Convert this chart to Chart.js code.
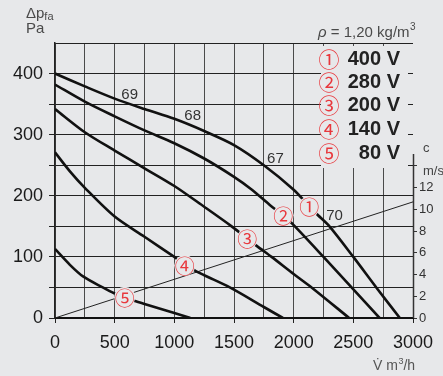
<!DOCTYPE html>
<html><head><meta charset="utf-8">
<script src="https://cdn.jsdelivr.net/npm/chart.js@4/dist/chart.umd.min.js"></script>
<style>html,body{margin:0;padding:0;background:#e7e8ea;}canvas{display:block}</style>
</head><body>
<canvas id="c" width="443" height="376"></canvas>
<script>
// ---- data ----
const curve400Flow = [0,250,500,750,1000,1250,1500,1750,2000,2130,2200,2300,2500,2700,2890];
const curve400Pressure = [400,379,359,342,326,306,283,250,210,183,169,150,100,48,0];
const curve280Flow = [0,250,500,750,1000,1250,1500,1650,1800,1910,2000,2250,2485,2720];
const curve280Pressure = [382,354,330,307,286,261,231,210,185,168,152,100,50,0];
const curve200Flow = [0,250,500,750,1000,1250,1480,1612,1690,1815,2000,2150,2465];
const curve200Pressure = [342,304,274,245,216,182,150,130,118,100,72,50,0];
const curve140Flow = [0,125,250,500,750,1000,1090,1170,1250,1465,1750,1910];
const curve140Pressure = [271,240,213,166,133,100,88,78,70,50,18,0];
const curve80Flow = [0,125,235,400,500,580,650,750,1000,1135];
const curve80Pressure = [113,87,68,50,40,34,29,23,8,0];
const systemFlow = [0,3000];
const systemPressure = [0,190];

const voltageLabels = ['400 V','280 V','200 V','140 V','80 V'];
const markerGlyphs = ['①','②','③','④','⑤'];
const markerFlow = [2130,1912,1612,1087,584];
const markerPressure = [182,168,130,86,34];
const levelLabels = ['69','68','67','70'];
const levelFlow = [626,1154,1847,2342];
const levelPressure = [365,331,261,167];

const xMax = 3000, yMax = 450;
const paPerMs = 17.78;            // right axis: velocity c (m/s) vs pressure scale
const y2Max = yMax / paPerMs;

const BG = '#e7e8ea';
const RED = '#e8383d';
const FONT = 'Liberation Sans, Arial, sans-serif';

function pts(xs, ys){ return xs.map((x,i)=>({x, y: ys[i]})); }

const deco = {
  id: 'deco',
  beforeDraw(chart){
    const c = chart.ctx; c.save(); c.fillStyle = BG; c.fillRect(0,0,chart.width,chart.height); c.restore();
  },
  beforeDatasetsDraw(chart){
    const {ctx, chartArea:a} = chart;
    ctx.save();
    ctx.fillStyle = BG;
    ctx.fillRect(a.right-92, a.top+3, 87, 122);
    ctx.strokeStyle = '#333'; ctx.lineWidth = 1.5;
    ctx.beginPath(); ctx.moveTo(a.right+0.5, 154); ctx.lineTo(a.right+0.5, a.bottom); ctx.stroke();
    ctx.restore();
  },
  afterDatasetsDraw(chart){
    const {ctx, chartArea:a, scales} = chart;
    const sx = scales.x, sy = scales.y;
    ctx.save();
    // circled markers on curves
    for (let i=0;i<markerGlyphs.length;i++){
      const px = sx.getPixelForValue(markerFlow[i]), py = sy.getPixelForValue(markerPressure[i]);
      ctx.fillStyle = BG;
      ctx.beginPath(); ctx.arc(px, py, 10.5, 0, Math.PI*2); ctx.fill();
      ctx.fillStyle = RED;
      ctx.font = '20px "Noto Sans CJK JP"';
      ctx.textAlign = 'center'; ctx.textBaseline = 'middle';
      ctx.fillText(markerGlyphs[i], px, py+1);
    }
    // level labels
    ctx.fillStyle = '#333';
    ctx.font = '15px ' + FONT;
    ctx.textAlign = 'center'; ctx.textBaseline = 'middle';
    for (let i=0;i<levelLabels.length;i++){
      ctx.fillText(levelLabels[i], sx.getPixelForValue(levelFlow[i]), sy.getPixelForValue(levelPressure[i]));
    }
    // legend
    const rows = [58, 81, 104.5, 128, 152];
    for (let i=0;i<voltageLabels.length;i++){
      ctx.fillStyle = RED;
      ctx.font = '21px "Noto Sans CJK JP"';
      ctx.textAlign = 'center'; ctx.textBaseline = 'middle';
      ctx.fillText(markerGlyphs[i], 329, rows[i]+1);
      ctx.fillStyle = '#222';
      ctx.font = 'bold 20px ' + FONT;
      ctx.textAlign = 'right';
      ctx.fillText(voltageLabels[i], 400, rows[i]+1);
    }
    // axis titles
    ctx.fillStyle = '#4a4a4a';
    ctx.textBaseline = 'alphabetic'; ctx.textAlign = 'left';
    ctx.font = '15px ' + FONT;
    ctx.fillText('Δp', 26, 18);
    const wdp = ctx.measureText('Δp').width;
    ctx.font = '11px ' + FONT;
    ctx.fillText('fa', 26 + wdp, 20);
    ctx.font = '15px ' + FONT;
    ctx.fillText('Pa', 26, 33);
    // density
    let x0 = 318;
    ctx.font = 'italic 15px ' + FONT;
    ctx.fillText('ρ', x0, 37); x0 += ctx.measureText('ρ').width;
    ctx.font = '15px ' + FONT;
    const dens = ' = 1,20 kg/m';
    ctx.fillText(dens, x0, 37); x0 += ctx.measureText(dens).width;
    ctx.font = '10px ' + FONT;
    ctx.fillText('3', x0+0.5, 30);
    // x title
    ctx.font = '14px ' + FONT;
    ctx.fillStyle = '#555';
    ctx.textAlign = 'left';
    let xt = 373;
    ctx.fillText('V\u0307 m', xt, 370); xt += ctx.measureText('V\u0307 m').width;
    ctx.font = '9px ' + FONT;
    ctx.fillText('3', xt+0.5, 364); xt += ctx.measureText('3').width + 0.5;
    ctx.font = '14px ' + FONT;
    ctx.fillText('/h', xt, 370);
    // right axis title
    ctx.font = '13px ' + FONT;
    ctx.fillStyle = '#444';
    ctx.fillText('c', 423, 152);
    ctx.fillText('m/s', 423, 175);
    ctx.restore();
  }
};

const curveStyle = {showLine:true, pointRadius:0, borderColor:'#111', borderWidth:2.6, tension:0.3, fill:false, yAxisID:'y'};

new Chart(document.getElementById('c'), {
  type: 'scatter',
  data: {
    datasets: [
      {...curveStyle, label:voltageLabels[0], data: pts(curve400Flow, curve400Pressure)},
      {...curveStyle, label:voltageLabels[1], data: pts(curve280Flow, curve280Pressure)},
      {...curveStyle, label:voltageLabels[2], data: pts(curve200Flow, curve200Pressure)},
      {...curveStyle, label:voltageLabels[3], data: pts(curve140Flow, curve140Pressure)},
      {...curveStyle, label:voltageLabels[4], data: pts(curve80Flow, curve80Pressure)},
      {showLine:true, pointRadius:0, borderColor:'#222', borderWidth:1, fill:false, yAxisID:'y', label:'system', data: pts(systemFlow, systemPressure)}
    ]
  },
  options: {
    responsive:false, animation:false, devicePixelRatio:1,
    layout:{padding:{top:43,left:0,right:0,bottom:0}},
    plugins:{legend:{display:false}, tooltip:{enabled:false}},
    scales:{
      x:{type:'linear', min:0, max:xMax,
        afterFit(s){ s.height = 58; },
        ticks:{stepSize:250, autoSkip:false, maxRotation:0, padding:9, color:'#1a1a1a', font:{family:FONT, size:18},
          callback:v => v%500===0 ? String(v) : ''},
        grid:{color:c => (c.tick && c.tick.value===xMax) ? 'rgba(0,0,0,0)' : '#4a4a4a', lineWidth:1, tickLength:5,
          tickColor:c => (c.tick && c.tick.value%500===0) ? '#222' : 'rgba(0,0,0,0)'},
        border:{color:'#111', width:2}
      },
      y:{type:'linear', min:0, max:yMax,
        afterFit(s){ s.width = 55; },
        ticks:{stepSize:50, autoSkip:false, padding:6, color:'#1a1a1a', font:{family:FONT, size:18},
          callback:v => (v%100===0 && v<=400) ? String(v) : ''},
        grid:{color:'#222', lineWidth:1, tickLength:6,
          tickColor:c => (c.tick && c.tick.value<yMax) ? '#222' : 'rgba(0,0,0,0)'},
        border:{color:'#222', width:1.5}
      },
      y2:{type:'linear', position:'right', min:0, max:y2Max,
        afterFit(s){ s.width = 30; },
        ticks:{stepSize:2, autoSkip:false, padding:2, color:'#333', font:{family:FONT, size:13},
          callback:v => (v<=12 && Number.isInteger(v)) ? String(v) : ''},
        grid:{drawOnChartArea:false, tickLength:4,
          tickColor:c => (c.tick && c.tick.value<=14) ? '#333' : 'rgba(0,0,0,0)'},
        border:{display:false}
      }
    }
  },
  plugins:[deco]
});
</script>
</body></html>
